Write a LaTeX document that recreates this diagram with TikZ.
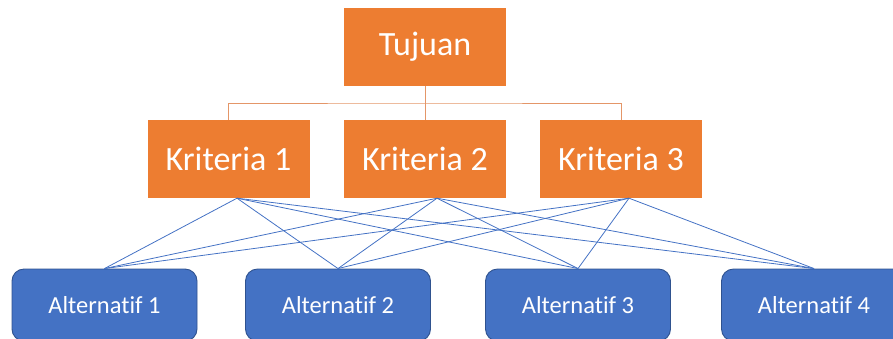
\documentclass[tikz,border=0pt]{standalone}
\usepackage{fontspec}
\setmainfont{Carlito}[Ligatures=NoCommon]
\definecolor{boxorange}{RGB}{237,125,49}
\definecolor{linkorange}{RGB}{228,150,104}
\definecolor{boxblue}{RGB}{68,114,196}
\definecolor{edgeblue}{RGB}{47,82,143}
\begin{document}
\begin{tikzpicture}[x=1pt,y=-1pt,
	goal/.style={fill=boxorange,text=white,minimum width=162pt,minimum height=78pt,inner sep=0pt,font=\fontsize{34}{40}\selectfont},
	alt/.style={fill=boxblue,draw=edgeblue,line width=0.9pt,rounded corners=12pt,text=white,minimum width=185pt,minimum height=72pt,inner sep=0pt,font=\fontsize{24.5}{29}\selectfont},
	tree/.style={linkorange,line width=0.9pt},
	link/.style={boxblue,line width=0.8pt}]
	\useasboundingbox (0,0) rectangle (893,338);
	\clip (0,0) rectangle (893,338);
	% goal and criteria
	\node[goal] (tujuan) at (425,47) {Tujuan};
	\node[goal] (k1) at (228.5,159) {Kriteria 1};
	\node[goal] (k2) at (425,159) {Kriteria 2};
	\node[goal] (k3) at (621,159) {Kriteria 3};
	\coordinate (bus) at (425,103);
	\draw[tree] (tujuan.south) -- (bus);
	\draw[tree] (k1.north) |- (bus) -| (k3.north);
	\draw[tree] (bus) -- (k2.north);
	% alternatives
	\node[alt] (a1) at (104.5,305) {Alternatif 1};
	\node[alt] (a2) at (338,305) {Alternatif 2};
	\node[alt] (a3) at (578,305) {Alternatif 3};
	\node[alt] (a4) at (814,305) {Alternatif 4};
	\coordinate (k1b) at ([xshift=8.5pt]k1.south);
	\coordinate (k2b) at ([xshift=12pt]k2.south);
	\coordinate (k3b) at ([xshift=8pt]k3.south);
	\foreach \k in {k1b,k2b,k3b}
		\foreach \a in {a1,a2,a3,a4}
			\draw[link] (\k) -- (\a.north);
\end{tikzpicture}
\end{document}
